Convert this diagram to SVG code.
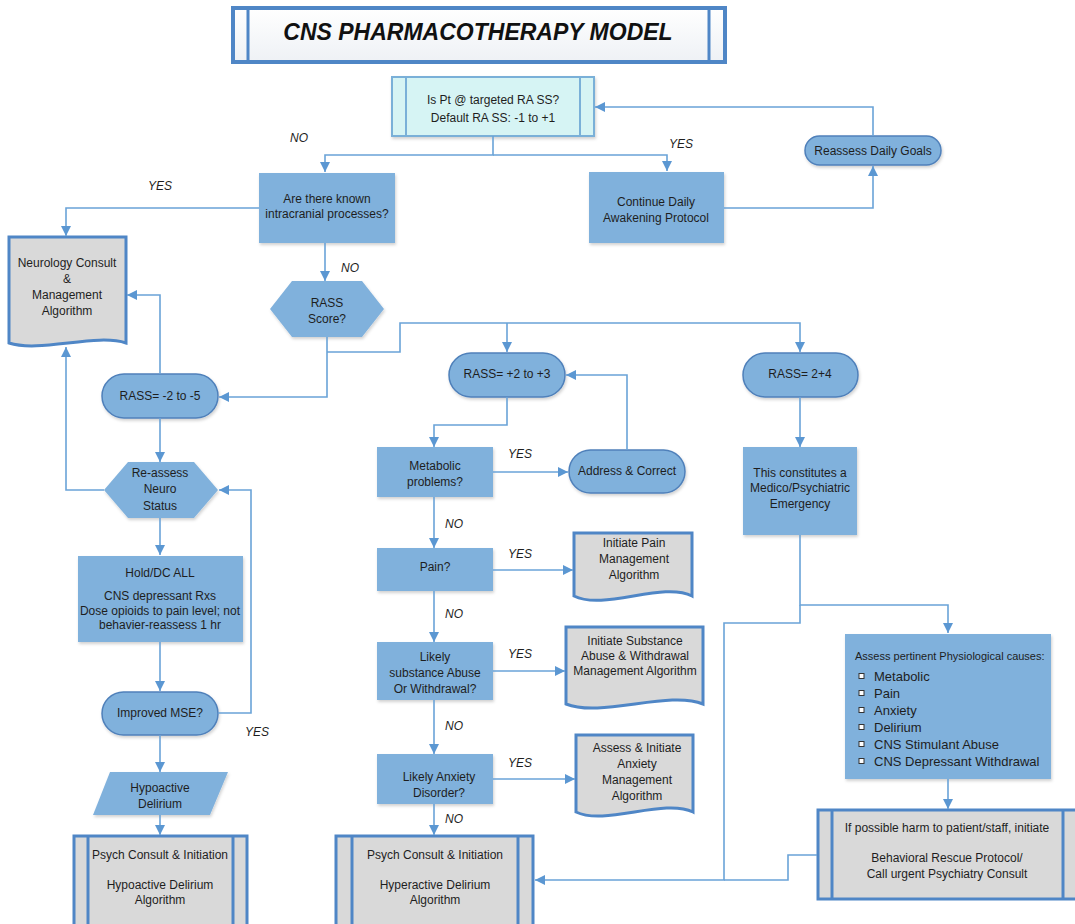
<svg xmlns="http://www.w3.org/2000/svg" width="1075" height="924" viewBox="0 0 1075 924">
<defs>
<linearGradient id="tg" x1="0" y1="0" x2="0" y2="1"><stop offset="0" stop-color="#ffffff"/><stop offset="1" stop-color="#eef1f5"/></linearGradient>
<filter id="sh" x="-10%" y="-10%" width="130%" height="130%"><feDropShadow dx="1" dy="2" stdDeviation="1.5" flood-color="#000" flood-opacity="0.18"/></filter>
<marker id="ar" viewBox="0 0 10 10" refX="10" refY="5" markerWidth="10" markerHeight="10" markerUnits="userSpaceOnUse" orient="auto"><path d="M0,0 L10,5 L0,10 z" fill="#5b97d2"/></marker>
<style>
.t{font-family:"Liberation Sans",Arial,Helvetica,sans-serif;font-size:12px;fill:#1e1e1e;text-anchor:middle}
.s{font-size:11px;text-anchor:start}
.b{font-size:13px;text-anchor:start}
.lb{font-family:"Liberation Sans",Arial,sans-serif;font-size:12px;font-style:italic;fill:#1e1e1e;text-anchor:middle}
.proc{fill:#80b1dc;filter:url(#sh)}
.pill{fill:#80b1dc;stroke:#4f80ba;stroke-width:1.5;filter:url(#sh)}
.doc{fill:#d9d9d9;stroke:#4f86c6;stroke-width:3}
.pre{fill:#d9d9d9;stroke:#4f86c6;stroke-width:3}
.bar{stroke:#4f86c6;stroke-width:3;fill:none}
.c{fill:none;stroke:#6aa3d8;stroke-width:1.6}
</style>
</defs>

<g id="title">
<rect x="233" y="8" width="492" height="54" fill="url(#tg)" stroke="#4f86c6" stroke-width="4"/>
<line x1="248" y1="8" x2="248" y2="62" class="bar"/>
<line x1="709" y1="8" x2="709" y2="62" class="bar"/>
<text x="478" y="40" class="t" style="font-size:23px;font-weight:bold;font-style:italic;fill:#111">CNS PHARMACOTHERAPY MODEL</text>
</g>

<g id="n_target">
<rect x="392" y="77" width="202" height="59" fill="#d6f4f4" stroke="#7ab0d8" stroke-width="2" filter="url(#sh)"/>
<line x1="406" y1="77" x2="406" y2="136" stroke="#7ab0d8" stroke-width="2"/>
<line x1="580" y1="77" x2="580" y2="136" stroke="#7ab0d8" stroke-width="2"/>
<text x="493" y="104" class="t">Is Pt @ targeted RA SS?</text>
<text x="493" y="122" class="t">Default RA SS: -1 to +1</text>
</g>

<g id="n_intracranial">
<rect x="259" y="173" width="136" height="70" class="proc"/>
<text x="327" y="203" class="t">Are there known</text>
<text x="327" y="218" class="t">intracranial processes?</text>
</g>

<g id="n_continue">
<rect x="589" y="172" width="135" height="71" class="proc"/>
<text x="656" y="206" class="t">Continue Daily</text>
<text x="656" y="222" class="t">Awakening Protocol</text>
</g>

<g id="n_reassess_goals">
<rect x="805" y="136" width="136" height="29" rx="14.5" class="pill"/>
<text x="873" y="155" class="t">Reassess Daily Goals</text>
</g>

<g id="n_neuro_consult">
<path d="M9,237 H126 V343 C96,333 40,353 9,343 Z" class="doc"/>
<text x="67" y="267" class="t">Neurology Consult</text>
<text x="67" y="283" class="t">&amp;</text>
<text x="67" y="299" class="t">Management</text>
<text x="67" y="315" class="t">Algorithm</text>
</g>

<g id="n_rass_score">
<polygon points="270,309 292,281 362,281 384,309 362,337 292,337" class="proc"/>
<text x="327" y="307" class="t">RASS</text>
<text x="327" y="323" class="t">Score?</text>
</g>

<g id="n_rass_neg">
<rect x="102" y="374" width="116" height="44" rx="22" class="pill"/>
<text x="160" y="400" class="t">RASS= -2 to -5</text>
</g>

<g id="n_reassess_neuro">
<polygon points="104,490 128,462 194,462 218,490 194,518 128,518" class="proc"/>
<text x="160" y="477" class="t">Re-assess</text>
<text x="160" y="493" class="t">Neuro</text>
<text x="160" y="510" class="t">Status</text>
</g>

<g id="n_hold">
<rect x="78" y="556" width="165" height="86" class="proc"/>
<text x="160" y="577" class="t">Hold/DC ALL</text>
<text x="160" y="600" class="t">CNS depressant Rxs</text>
<text x="160" y="615" class="t">Dose opioids to pain level; not</text>
<text x="160" y="629" class="t">behavier-reassess 1 hr</text>
</g>

<g id="n_improved">
<rect x="102" y="692" width="116" height="43" rx="21.5" class="pill"/>
<text x="160" y="717" class="t">Improved MSE?</text>
</g>

<g id="n_hypo">
<polygon points="110,772 228,772 210,815 93,815" class="proc"/>
<text x="160" y="792" class="t">Hypoactive</text>
<text x="160" y="808" class="t">Delirium</text>
</g>

<g id="n_psych_hypo">
<rect x="74" y="836" width="173" height="96" class="pre"/>
<line x1="88" y1="836" x2="88" y2="932" class="bar"/>
<line x1="233" y1="836" x2="233" y2="932" class="bar"/>
<text x="160" y="859" class="t">Psych Consult &amp; Initiation</text>
<text x="160" y="889" class="t">Hypoactive Delirium</text>
<text x="160" y="904" class="t">Algorithm</text>
</g>

<g id="n_rass_pos">
<rect x="449" y="353" width="116" height="44" rx="22" class="pill"/>
<text x="507" y="378" class="t">RASS= +2 to +3</text>
</g>

<g id="n_metabolic">
<rect x="377" y="447" width="116" height="50" class="proc"/>
<text x="435" y="470" class="t">Metabolic</text>
<text x="435" y="486" class="t">problems?</text>
</g>

<g id="n_address">
<rect x="569" y="450" width="116" height="43" rx="21.5" class="pill"/>
<text x="627" y="475" class="t">Address &amp; Correct</text>
</g>

<g id="n_pain">
<rect x="377" y="548" width="116" height="43" class="proc"/>
<text x="435" y="571" class="t">Pain?</text>
</g>

<g id="n_pain_doc">
<path d="M574,533 H692 V596 C663,581 604,611 574,596 Z" class="doc"/>
<text x="634" y="547" class="t">Initiate Pain</text>
<text x="634" y="563" class="t">Management</text>
<text x="634" y="579" class="t">Algorithm</text>
</g>

<g id="n_substance">
<rect x="377" y="642" width="116" height="58" class="proc"/>
<text x="435" y="661" class="t">Likely</text>
<text x="435" y="677" class="t">substance Abuse</text>
<text x="435" y="693" class="t">Or Withdrawal?</text>
</g>

<g id="n_substance_doc">
<path d="M566,627 H703 V704 C669,690 601,718 566,704 Z" class="doc"/>
<text x="635" y="645" class="t">Initiate Substance</text>
<text x="635" y="660" class="t">Abuse &amp; Withdrawal</text>
<text x="635" y="675" class="t">Management Algorithm</text>
</g>

<g id="n_anxiety">
<rect x="377" y="754" width="116" height="50" class="proc"/>
<text x="439" y="781" class="t">Likely Anxiety</text>
<text x="439" y="797" class="t">Disorder?</text>
</g>

<g id="n_anxiety_doc">
<path d="M576,735 H693 V812 C664,798 605,826 576,812 Z" class="doc"/>
<text x="637" y="752" class="t">Assess &amp; Initiate</text>
<text x="637" y="768" class="t">Anxiety</text>
<text x="637" y="784" class="t">Management</text>
<text x="637" y="800" class="t">Algorithm</text>
</g>

<g id="n_psych_hyper">
<rect x="336" y="836" width="197" height="96" class="pre"/>
<line x1="352" y1="836" x2="352" y2="932" class="bar"/>
<line x1="518" y1="836" x2="518" y2="932" class="bar"/>
<text x="435" y="859" class="t">Psych Consult &amp; Initiation</text>
<text x="435" y="889" class="t">Hyperactive Delirium</text>
<text x="435" y="904" class="t">Algorithm</text>
</g>

<g id="n_rass_high">
<rect x="743" y="353" width="115" height="44" rx="22" class="pill"/>
<text x="800" y="378" class="t">RASS= 2+4</text>
</g>

<g id="n_emergency">
<rect x="743" y="447" width="114" height="88" class="proc"/>
<text x="800" y="477" class="t">This constitutes a</text>
<text x="800" y="492" class="t">Medico/Psychiatric</text>
<text x="800" y="508" class="t">Emergency</text>
</g>

<g id="n_assess_causes">
<rect x="845" y="634" width="206" height="145" class="proc"/>
<text x="855" y="660" class="t s">Assess pertinent Physiological causes:</text>
<g fill="#fff" stroke="#333" stroke-width="1">
<rect x="859" y="673.5" width="5" height="5"/>
<rect x="859" y="690.5" width="5" height="5"/>
<rect x="859" y="707.5" width="5" height="5"/>
<rect x="859" y="724.5" width="5" height="5"/>
<rect x="859" y="741.5" width="5" height="5"/>
<rect x="859" y="758.5" width="5" height="5"/>
</g>
<text x="874" y="681" class="t b">Metabolic</text>
<text x="874" y="698" class="t b">Pain</text>
<text x="874" y="715" class="t b">Anxiety</text>
<text x="874" y="732" class="t b">Delirium</text>
<text x="874" y="749" class="t b">CNS Stimulant Abuse</text>
<text x="874" y="766" class="t b">CNS Depressant Withdrawal</text>
</g>

<g id="n_behavioral">
<rect x="818" y="810" width="262" height="89" class="pre"/>
<line x1="832" y1="810" x2="832" y2="899" class="bar"/>
<line x1="1063" y1="810" x2="1063" y2="899" class="bar"/>
<text x="947" y="832" class="t">If possible harm to patient/staff, initiate</text>
<text x="947" y="862" class="t">Behavioral Rescue Protocol/</text>
<text x="947" y="878" class="t">Call urgent Psychiatry Consult</text>
</g>

<g id="connectors">
<path class="c" d="M493,136 V155 H325 V172" marker-end="url(#ar)"/>
<path class="c" d="M493,155 H667 V171" marker-end="url(#ar)"/>
<path class="c" d="M724,208 H873 V166" marker-end="url(#ar)"/>
<path class="c" d="M873,136 V107 H595" marker-end="url(#ar)"/>
<path class="c" d="M259,208 H66 V236" marker-end="url(#ar)"/>
<path class="c" d="M325,243 V281" marker-end="url(#ar)"/>
<path class="c" d="M327,337 V397 H219" marker-end="url(#ar)"/>
<path class="c" d="M327,352 H400 V323 H800 V352" marker-end="url(#ar)"/>
<path class="c" d="M507,323 V352" marker-end="url(#ar)"/>
<path class="c" d="M160,374 V295 H127" marker-end="url(#ar)"/>
<path class="c" d="M160,418 V462" marker-end="url(#ar)"/>
<path class="c" d="M104,490 H66 V347" marker-end="url(#ar)"/>
<path class="c" d="M160,518 V555" marker-end="url(#ar)"/>
<path class="c" d="M160,642 V691" marker-end="url(#ar)"/>
<path class="c" d="M218,713 H251 V490 H219" marker-end="url(#ar)"/>
<path class="c" d="M160,735 V772" marker-end="url(#ar)"/>
<path class="c" d="M160,815 V835" marker-end="url(#ar)"/>
<path class="c" d="M507,397 V425 H434 V447" marker-end="url(#ar)"/>
<path class="c" d="M493,472 H568" marker-end="url(#ar)"/>
<path class="c" d="M627,450 V375 H566" marker-end="url(#ar)"/>
<path class="c" d="M434,497 V548" marker-end="url(#ar)"/>
<path class="c" d="M493,570 H573" marker-end="url(#ar)"/>
<path class="c" d="M434,591 V642" marker-end="url(#ar)"/>
<path class="c" d="M493,671 H565" marker-end="url(#ar)"/>
<path class="c" d="M434,700 V754" marker-end="url(#ar)"/>
<path class="c" d="M493,779 H575" marker-end="url(#ar)"/>
<path class="c" d="M434,804 V835" marker-end="url(#ar)"/>
<path class="c" d="M800,397 V447" marker-end="url(#ar)"/>
<path class="c" d="M800,535 V605 H948 V633" marker-end="url(#ar)"/>
<path class="c" d="M800,605 V623 H724 V880 H535" marker-end="url(#ar)"/>
<path class="c" d="M948,779 V809" marker-end="url(#ar)"/>
<path class="c" d="M817,855 H788 V880 H724"/>
</g>

<g id="labels">
<text x="299" y="142" class="lb">NO</text>
<text x="681" y="148" class="lb">YES</text>
<text x="160" y="190" class="lb">YES</text>
<text x="350" y="272" class="lb">NO</text>
<text x="257" y="736" class="lb">YES</text>
<text x="520" y="458" class="lb">YES</text>
<text x="454" y="528" class="lb">NO</text>
<text x="520" y="558" class="lb">YES</text>
<text x="454" y="618" class="lb">NO</text>
<text x="520" y="658" class="lb">YES</text>
<text x="454" y="730" class="lb">NO</text>
<text x="520" y="767" class="lb">YES</text>
<text x="454" y="823" class="lb">NO</text>
</g>
</svg>
